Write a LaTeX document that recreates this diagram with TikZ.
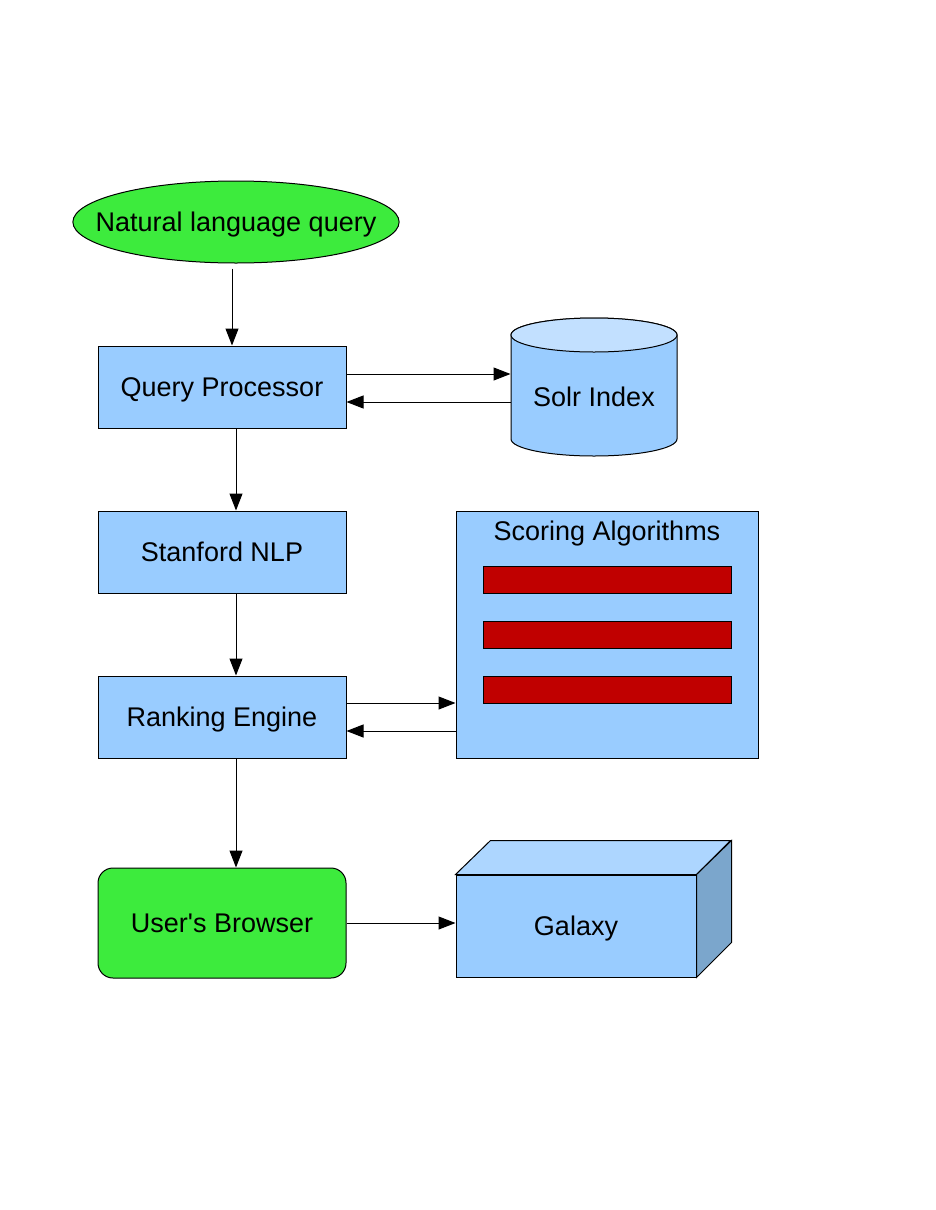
\documentclass[tikz,border=0pt]{standalone}
\usepackage{fontspec}
\newfontfamily\diagfont{Liberation Sans}
\usetikzlibrary{shapes.geometric, arrows.meta, positioning}
\definecolor{boxblue}{HTML}{99CCFF}
\definecolor{topblue}{HTML}{C2E0FF}
\definecolor{lidblue}{HTML}{ADD6FF}
\definecolor{sideblue}{HTML}{7BA6CC}
\definecolor{nodegreen}{HTML}{3DEB3D}
\definecolor{barred}{HTML}{C00000}
\tikzstyle{startstop} = [ellipse, minimum height=82pt, inner xsep=-25pt, inner ysep=0pt, text centered, draw=black, fill=nodegreen]
\tikzstyle{process} = [rectangle, minimum width=248pt, minimum height=82pt, text centered, draw=black, fill=boxblue]
\tikzstyle{browser} = [rectangle, rounded corners=15pt, minimum width=248pt, minimum height=110pt, text centered, draw=black, fill=nodegreen]
\tikzstyle{dbtext} = [rectangle, minimum width=166pt, minimum height=100pt, text centered]
\tikzstyle{container} = [rectangle, minimum width=302pt, minimum height=247pt, draw=black, fill=boxblue]
\tikzstyle{bar} = [rectangle, minimum width=248pt, minimum height=27pt, draw=black, fill=barred]
\tikzstyle{front} = [rectangle, minimum width=240pt, minimum height=102pt, text centered, draw=black, fill=boxblue]
\tikzstyle{arrow} = [->, >={Triangle[length=17pt,width=13pt]}]

\begin{document}
\begin{tikzpicture}[x=1pt, y=1pt, line width=1pt, node distance=82pt, font=\diagfont\fontsize{27}{32}\selectfont,
  every node/.append style={text height=19.5pt, text depth=0pt}]
\useasboundingbox (0,0) rectangle (935,-1210);
\node (query) [startstop] at (236,-222) {Natural language query};
\node (qp) [process] at (222,-387) {Query Processor};
\node (nlp) [process, below=of qp] {Stanford NLP};
\node (rank) [process, below=of nlp] {Ranking Engine};
\node (browser) [browser, below=109pt of rank] {User's Browser};

% solr cylinder
\filldraw [fill=boxblue] (511,-335) -- (511,-439) arc (180:360:83pt and 17pt) -- (677,-335) arc (0:180:83pt and 17pt) -- cycle;
\filldraw [fill=topblue] (594,-335) ellipse (83pt and 17pt);
\node (solr) [dbtext] at (594,-397) {Solr Index};

% scoring box
\node (scoring) [container] at (607,-634.5) {};
\node (sctitle) at (607,-531) {Scoring Algorithms};
\foreach \i/\y in {1/579.5, 2/634.5, 3/689.5}
  \node (bar\i) [bar] at (607,-\y) {};

% galaxy cube
\node (galaxy) [front] at (576,-926) {Galaxy};
\filldraw [fill=lidblue] (galaxy.north west) -- ++(35,34) -- ++(240,0) -- (galaxy.north east) -- cycle;
\filldraw [fill=sideblue] (galaxy.north east) -- ++(35,34) -- ++(0,-102) -- (galaxy.south east) -- cycle;

\draw [arrow] ([xshift=-4pt,yshift=-5pt]query.south) -- ([xshift=-4pt]query.south |- qp.north);
\draw [arrow] ([xshift=14pt]qp.south) -- ([xshift=14pt]nlp.north);
\draw [arrow] ([xshift=14pt]nlp.south) -- ([xshift=14pt]rank.north);
\draw [arrow] ([xshift=14pt]rank.south) -- ([xshift=14pt]browser.north);
\draw [arrow] ([yshift=13pt]qp.east) -- ([yshift=13pt]qp.east -| solr.west);
\draw [arrow] ([yshift=-15pt]qp.east -| solr.west) -- ([yshift=-15pt]qp.east);
\draw [arrow] ([yshift=14pt]rank.east) -- ([yshift=14pt]rank.east -| scoring.west);
\draw [arrow] ([yshift=-14pt]rank.east -| scoring.west) -- ([yshift=-14pt]rank.east);
\draw [arrow] (browser.east) -- (browser.east -| galaxy.west);
\end{tikzpicture}
\end{document}
